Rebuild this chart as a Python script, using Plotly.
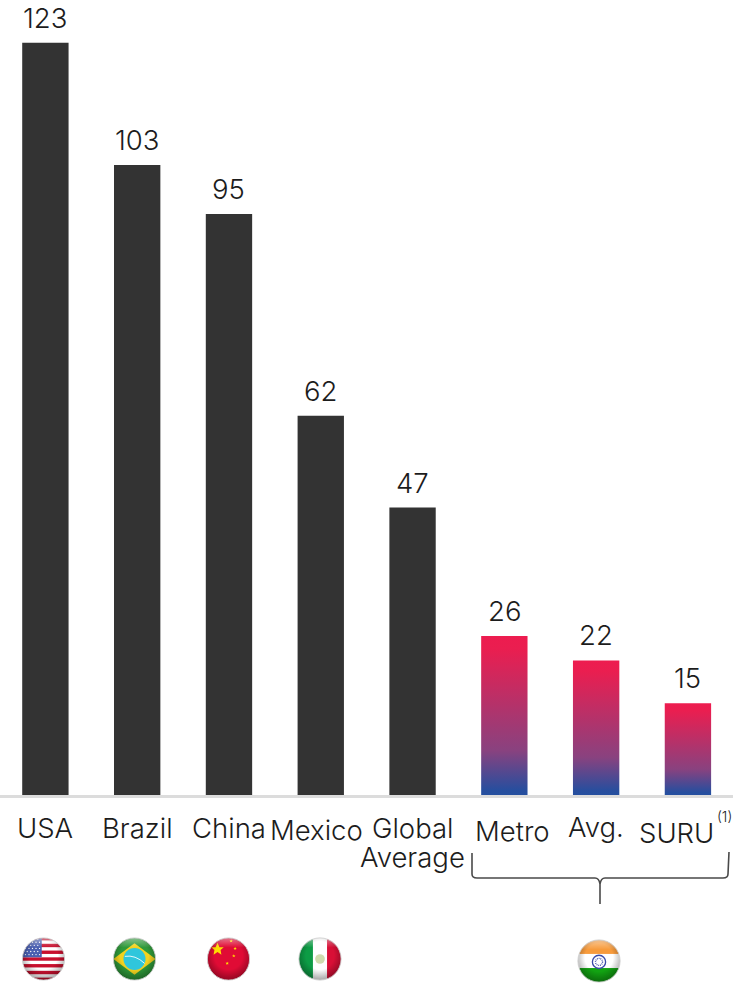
import base64
import plotly.graph_objects as go

categories = ["USA", "Brazil", "China", "Mexico", "Global<br>Average", "Metro", "Avg.", "SURU"]
values = [123, 103, 95, 62, 47, 26, 22, 15]
bar_colors = ["#333333"] * 5 + ["#ed1c4f"] * 3
label_dx = [0, 0, 0, -4, 0, 8, 0, -11]
label_dy = [-33, -33, -33, -35, -33, -36, -32, -38]

W, H = 733, 985
BASE = 795
FONT = "Inter, Lato, sans-serif"
INK = "#1c1c1c"
FS = 27.5


def px(x):
    return x / W


def py(y):
    return 1 - y / H


def flag_svg(body):
    svg = f'''<svg xmlns="http://www.w3.org/2000/svg" width="100" height="100" viewBox="0 0 100 100">
<defs><clipPath id="c"><circle cx="50" cy="50" r="48"/></clipPath>
<radialGradient id="s" cx="50%" cy="42%" r="58%"><stop offset="0.55" stop-color="#000" stop-opacity="0"/><stop offset="1" stop-color="#000" stop-opacity="0.38"/></radialGradient>
<linearGradient id="h" x1="0" y1="0" x2="0" y2="1"><stop offset="0" stop-color="#fff" stop-opacity="0.45"/><stop offset="0.5" stop-color="#fff" stop-opacity="0"/></linearGradient></defs>
<g clip-path="url(#c)">{body}<rect width="100" height="100" fill="url(#s)"/><ellipse cx="50" cy="24" rx="38" ry="22" fill="url(#h)"/></g>
<circle cx="50" cy="50" r="48" fill="none" stroke="#cfcfcf" stroke-width="2"/></svg>'''
    return "data:image/svg+xml;base64," + base64.b64encode(svg.encode()).decode()


def star(cx, cy, r, color="#ffde00"):
    pts = [(0, -1), (.29, -.31), (.95, -.31), (.47, .12), (.59, .81), (0, .4), (-.59, .81), (-.47, .12), (-.95, -.31), (-.29, -.31)]
    s = " ".join(f"{cx + r * a:.1f},{cy + r * b:.1f}" for a, b in pts)
    return f'<polygon points="{s}" fill="{color}"/>'


usa = '<rect width="100" height="100" fill="#fff"/>' + "".join(
    f'<rect y="{i * 100 / 13:.1f}" width="100" height="{100 / 13:.1f}" fill="#c8102e"/>' for i in range(0, 13, 2)
) + '<rect width="46" height="46" fill="#4a5fb0"/>' + "".join(
    f'<circle cx="{5 + c * 8 + (r % 2) * 4}" cy="{5 + r * 7}" r="1.5" fill="#fff"/>' for r in range(6) for c in range(5)
)
brazil = ('<rect width="100" height="100" fill="#2f9a3a"/>'
          '<polygon points="2,50 50,14 98,50 50,86" fill="#f2d21f"/>'
          '<circle cx="50" cy="50" r="25" fill="#2fc6dc"/>'
          '<path d="M28 44 Q52 40 73 60" stroke="#fff" stroke-width="2" fill="none"/>')
china = ('<rect width="100" height="100" fill="#e00b35"/>' + star(25, 28, 15) + star(56, 9, 4)
       + star(65, 26, 4) + star(62, 43, 4) + star(47, 60, 4))
mexico = ('<rect width="34" height="100" fill="#0d9c45"/><rect x="34" width="32" height="100" fill="#fff"/>'
          '<rect x="66" width="34" height="100" fill="#d80f36"/>'
          '<circle cx="50" cy="50" r="11" fill="#cfdcae"/>')
india = ('<rect width="100" height="34" fill="#f79b3c"/><rect y="34" width="100" height="32" fill="#fff"/>'
         '<rect y="66" width="100" height="34" fill="#12a312"/>'
         '<circle cx="50" cy="52" r="15" fill="none" stroke="#3a4aa8" stroke-width="3"/>'
         '<circle cx="50" cy="52" r="8" fill="none" stroke="#3a4aa8" stroke-width="3" stroke-dasharray="2 2"/>')

flags = [(usa, 43.5, 959, 44), (brazil, 134.5, 959, 44), (china, 228.5, 959, 44), (mexico, 320, 959, 44), (india, 599, 961, 44)]

fig = go.Figure(go.Bar(
    x=list(range(len(values))), y=values, width=0.505,
    marker=dict(color=bar_colors, line_width=0),
    cliponaxis=False, hoverinfo="skip",
))

annotations = []
for i, v in enumerate(values):
    annotations.append(dict(
        x=i, y=v, xref="x", yref="y", text=str(v), showarrow=False,
        xanchor="center", yanchor="middle", yshift=25,
        font=dict(family=FONT, size=FS, color=INK, weight=300),
    ))
for i, (cat, dx, dy) in enumerate(zip(categories, label_dx, label_dy)):
    for j, line in enumerate(cat.split("<br>")):
        annotations.append(dict(
            x=i, y=0, xref="x", yref="y", text=line, showarrow=False,
            xanchor="center", yanchor="middle", xshift=dx, yshift=dy - 29 * j,
            font=dict(family=FONT, size=FS, color=INK, weight=300),
        ))
annotations.append(dict(x=px(724), y=py(816), xref="paper", yref="paper", text="(1)", showarrow=False,
                        xanchor="center", yanchor="middle", font=dict(family=FONT, size=14, color=INK, weight=300)))

images = [dict(source=flag_svg(b), xref="paper", yref="paper", x=px(cx - s / 2), y=py(cy - s / 2),
               sizex=s / W, sizey=s / H, sizing="stretch", xanchor="left", yanchor="top", layer="above")
          for b, cx, cy, s in flags]

brace_pts = f"M {px(472)} {py(853)} L {px(472)} {py(874)} Q {px(472)} {py(878)} {px(477)} {py(878)} " \
            f"L {px(595)} {py(878)} Q {px(599)} {py(878)} {px(600)} {py(884)} L {px(600)} {py(904)} " \
            f"L {px(600)} {py(884)} Q {px(601)} {py(878)} {px(605)} {py(878)} " \
            f"L {px(723)} {py(878)} Q {px(728)} {py(878)} {px(728)} {py(874)} L {px(729)} {py(852)}"

fig.update_layout(
    width=W, height=H, autosize=False,
    margin=dict(l=0, r=0, t=0, b=0),
    paper_bgcolor="white", plot_bgcolor="white", showlegend=False,
    xaxis=dict(range=[-0.4945, 7.491], domain=[0, 1], showgrid=False, zeroline=False, showticklabels=False,
               ticks="", showline=True, linecolor="#dcdcdc", linewidth=3, fixedrange=True),
    yaxis=dict(range=[0, BASE / 6.116], domain=[1 - BASE / H, 1], visible=False, fixedrange=True),
    annotations=annotations, images=images,
    shapes=[dict(type="path", xref="paper", yref="paper", path=brace_pts,
                 line=dict(color="#4a4a4a", width=1.6), fillcolor="rgba(0,0,0,0)")],
)

post = """
document.documentElement.style.margin='0';document.body.style.margin='0';document.body.style.overflow='hidden';
var gd=document.getElementById('{plot_id}');
function grad(){
  var svg=gd.querySelector('.main-svg');
  var NS='http://www.w3.org/2000/svg';
  if(!document.getElementById('barGrad')){
    var d=svg.querySelector('defs');
    var g=document.createElementNS(NS,'linearGradient');
    g.setAttribute('id','barGrad');g.setAttribute('x1','0');g.setAttribute('y1','0');g.setAttribute('x2','0');g.setAttribute('y2','1');
    [['0','#ed1c4f'],['0.08','#ea1e50'],['0.72','#89427f'],['0.97','#274e9e'],['1','#254f9f']].forEach(function(s){
      var st=document.createElementNS(NS,'stop');st.setAttribute('offset',s[0]);st.setAttribute('stop-color',s[1]);g.appendChild(st);
    });
    d.appendChild(g);
  }
  var bars=gd.querySelectorAll('.barlayer .point path');
  for(var i=5;i<bars.length;i++){bars[i].style.fill='url(#barGrad)';}
}
grad();
gd.on('plotly_afterplot',grad);
"""
fig.write_html("out.html", post_script=post, config=dict(displayModeBar=False))
